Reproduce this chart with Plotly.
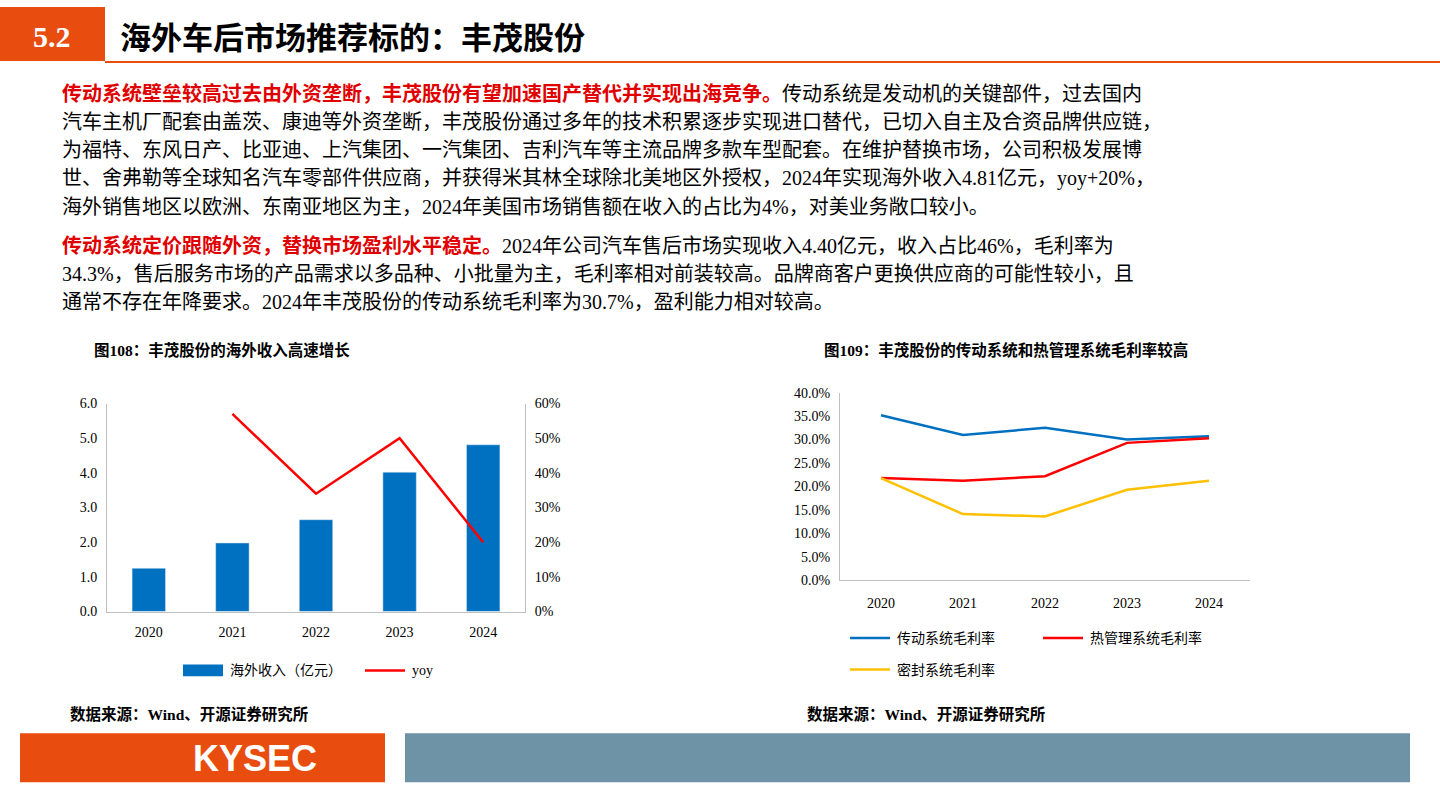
import plotly.graph_objects as go

years = ["2020", "2021", "2022", "2023", "2024"]
overseas_rev = [1.25, 1.98, 2.65, 4.02, 4.81]
yoy = [None, 0.57, 0.34, 0.50, 0.20]
drive_gm = [0.352, 0.310, 0.325, 0.300, 0.307]
thermal_gm = [0.218, 0.212, 0.222, 0.293, 0.303]
seal_gm = [0.218, 0.141, 0.136, 0.193, 0.212]

W, H = 1440, 810
def px(x): return x / W
def py(y): return 1 - y / H

SER = "Liberation Serif, Noto Sans CJK SC"
BLUE = "#0070C0"; RED = "#FF0000"; YEL = "#FFC000"; ORG = "#E84C0E"

fig = go.Figure()
fig.add_trace(go.Bar(x=years, y=overseas_rev, marker_color=BLUE, width=0.4, xaxis="x", yaxis="y", showlegend=False))
fig.add_trace(go.Scatter(x=years, y=yoy, mode="lines", line=dict(color=RED, width=2.5), xaxis="x", yaxis="y2", showlegend=False))
fig.add_trace(go.Scatter(x=years, y=drive_gm, mode="lines", line=dict(color=BLUE, width=2.5), xaxis="x3", yaxis="y3", showlegend=False))
fig.add_trace(go.Scatter(x=years, y=thermal_gm, mode="lines", line=dict(color=RED, width=2.5), xaxis="x3", yaxis="y3", showlegend=False))
fig.add_trace(go.Scatter(x=years, y=seal_gm, mode="lines", line=dict(color=YEL, width=2.5), xaxis="x3", yaxis="y3", showlegend=False))

tf = dict(family=SER, size=14, color="#000")
fig.update_layout(
    autosize=True, margin=dict(l=0, r=0, t=0, b=0),
    paper_bgcolor="white", plot_bgcolor="white",
    xaxis=dict(domain=[px(107), px(525)], anchor="y", showline=True, linecolor="#bfbfbf", ticks="outside", ticklen=8, tickcolor="white", tickfont=tf),
    yaxis=dict(domain=[py(616), py(404)], range=[0, 6], dtick=1, tickformat=".1f", showline=True, linecolor="#bfbfbf", showgrid=False, tickfont=tf, zeroline=False, ticks="outside", ticklen=6, tickcolor="white"),
    yaxis2=dict(overlaying="y", side="right", anchor="x", range=[0, 0.6], dtick=0.1, tickformat=".0%", showline=True, linecolor="#bfbfbf", showgrid=False, tickfont=tf, zeroline=False, ticks="outside", ticklen=6, tickcolor="white"),
    xaxis3=dict(domain=[px(840), px(1250)], anchor="y3", showline=True, linecolor="#bfbfbf", ticks="outside", ticklen=10, tickcolor="white", tickfont=tf, range=[-0.5, 4.5]),
    yaxis3=dict(domain=[py(584), py(393)], anchor="x3", range=[0, 0.4], dtick=0.05, tickformat=".1%", showline=True, linecolor="#bfbfbf", showgrid=False, tickfont=tf, zeroline=False, ticks="outside", ticklen=6, tickcolor="white"),
)

shapes = [
    dict(type="rect", xref="paper", yref="paper", x0=0, x1=px(105), y0=py(55), y1=1, fillcolor=ORG, line_width=0),
    dict(type="line", xref="paper", yref="paper", x0=px(105), x1=1, y0=py(56), y1=py(56), line=dict(color=ORG, width=2)),
    dict(type="rect", xref="paper", yref="paper", x0=px(20), x1=px(385), y0=py(790), y1=py(740), fillcolor=ORG, line_width=0),
    dict(type="rect", xref="paper", yref="paper", x0=px(405), x1=px(1410), y0=py(790), y1=py(740), fillcolor="#6E93A6", line_width=0),
    dict(type="rect", xref="paper", yref="paper", x0=px(183), x1=px(223), y0=py(682), y1=py(670), fillcolor=BLUE, line_width=0),
    dict(type="line", xref="paper", yref="paper", x0=px(365), x1=px(405), y0=py(676), y1=py(676), line=dict(color=RED, width=2.5)),
    dict(type="line", xref="paper", yref="paper", x0=px(850), x1=px(890), y0=py(643), y1=py(643), line=dict(color=BLUE, width=2.5)),
    dict(type="line", xref="paper", yref="paper", x0=px(1043), x1=px(1083), y0=py(643), y1=py(643), line=dict(color=RED, width=2.5)),
    dict(type="line", xref="paper", yref="paper", x0=px(850), x1=px(890), y0=py(675), y1=py(675), line=dict(color=YEL, width=2.5)),
]
fig.update_layout(shapes=shapes)

def ann(x, y, text, size=20, color="#000", xanchor="left", family=SER):
    fig.add_annotation(xref="paper", yref="paper", x=px(x), y=py(y), text=text, showarrow=False,
                       xanchor=xanchor, yanchor="middle", font=dict(family=family, size=size, color=color))

ann(52, 30, "<b>5.2</b>", 30, "white", "center")
ann(118, 32, "<b>海外车后市场推荐标的：丰茂股份</b>", 31)
lines = [
    "<span style='color:#E00000'><b>传动系统壁垒较高过去由外资垄断，丰茂股份有望加速国产替代并实现出海竞争。</b></span>传动系统是发动机的关键部件，过去国内",
    "汽车主机厂配套由盖茨、康迪等外资垄断，丰茂股份通过多年的技术积累逐步实现进口替代，已切入自主及合资品牌供应链，",
    "为福特、东风日产、比亚迪、上汽集团、一汽集团、吉利汽车等主流品牌多款车型配套。在维护替换市场，公司积极发展博",
    "世、舍弗勒等全球知名汽车零部件供应商，并获得米其林全球除北美地区外授权，2024年实现海外收入4.81亿元，yoy+20%，",
    "海外销售地区以欧洲、东南亚地区为主，2024年美国市场销售额在收入的占比为4%，对美业务敞口较小。",
]
for i, t in enumerate(lines):
    ann(60, 88 + 29 * i, t, 20)
lines2 = [
    "<span style='color:#E00000'><b>传动系统定价跟随外资，替换市场盈利水平稳定。</b></span>2024年公司汽车售后市场实现收入4.40亿元，收入占比46%，毛利率为",
    "34.3%，售后服务市场的产品需求以多品种、小批量为主，毛利率相对前装较高。品牌商客户更换供应商的可能性较小，且",
    "通常不存在年降要求。2024年丰茂股份的传动系统毛利率为30.7%，盈利能力相对较高。",
]
for i, t in enumerate(lines2):
    ann(60, 243 + 29 * i, t, 20)

ann(92, 349, "<b>图108：丰茂股份的海外收入高速增长</b>", 15.5)
ann(822, 349, "<b>图109：丰茂股份的传动系统和热管理系统毛利率较高</b>", 15.5)
ann(228, 676, "海外收入（亿元）", 14)
ann(410, 676, "yoy", 14)
ann(895, 643, "传动系统毛利率", 14)
ann(1088, 643, "热管理系统毛利率", 14)
ann(895, 675, "密封系统毛利率", 14)
ann(68, 720, "<b>数据来源：Wind、开源证券研究所</b>", 15.5)
ann(805, 720, "<b>数据来源：Wind、开源证券研究所</b>", 15.5)
ann(255, 766, "<b>KYSEC</b>", 36, "white", "center", "Liberation Sans")

fig.write_html("out.html", default_width="100vw", default_height="100vh",
               config={"displayModeBar": False})
with open("out.html", encoding="utf-8") as f:
    html = f.read()
html = html.replace("<body>", "<body style=\"margin:0;overflow:hidden\">", 1)
with open("out.html", "w", encoding="utf-8") as f:
    f.write(html)
